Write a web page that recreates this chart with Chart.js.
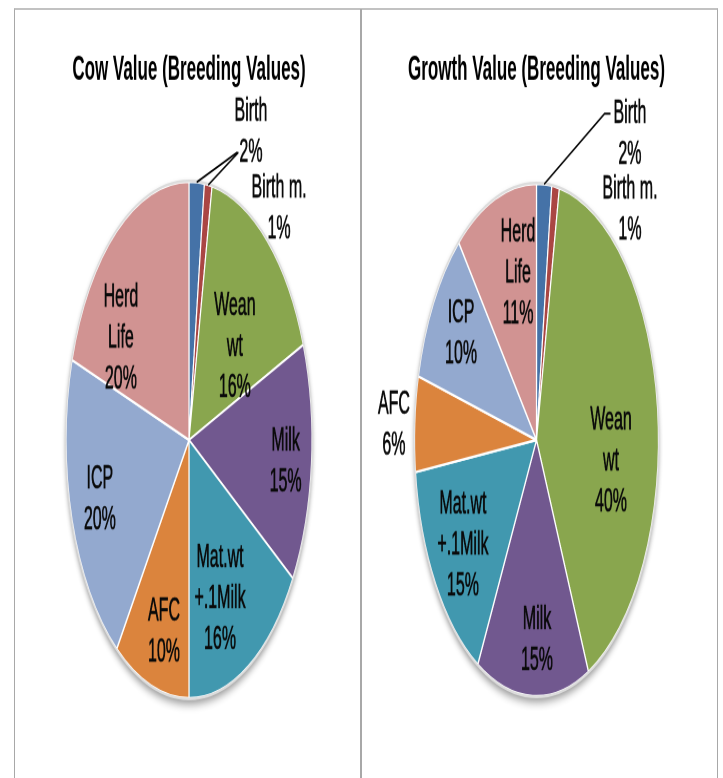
<!DOCTYPE html>
<html>
<head>
<meta charset="utf-8">
<script src="https://cdn.jsdelivr.net/npm/chart.js@4.4.1/dist/chart.umd.min.js"></script>
<style>
  html, body { margin: 0; padding: 0; background: #fff; }
  body { width: 723px; height: 778px; position: relative; overflow: hidden; }
  .frame { position: absolute; left: 14px; top: 8px; width: 702px; height: 790px;
           border-left: 1.5px solid #a8a8a8; border-right: 1.5px solid #a8a8a8; border-top: 2px solid #c2c2c2; }
  .divider { position: absolute; left: 360px; top: 9px; width: 1.5px; height: 770px; background: #a8a8a8; }
  canvas { position: absolute; top: 0; transform-origin: 0 0; transform: scaleY(2.1); }
  #cowChart { left: 0; }
  #growthChart { left: 361px; }
</style>
</head>
<body>
<div class="frame"></div>
<div class="divider"></div>
<canvas id="cowChart" width="361" height="370"></canvas>
<canvas id="growthChart" width="362" height="370"></canvas>
<script>
// Data (percent of total)
const categories = ['Birth', 'Birth m.', ['Wean', 'wt'], 'Milk', ['Mat.wt', '+.1Milk'], 'AFC', 'ICP', ['Herd', 'Life']];
const cowValues = [2, 1, 16, 15, 16, 10, 20, 20];
const growthValues = [2, 1, 40, 15, 15, 6, 10, 11];

const sliceColors = ['#4572A7', '#AA4643', '#89A64E', '#71588F', '#4198AF', '#DB843D', '#93A9CF', '#D19392'];

// Label placement: r = fraction of radius, shift = degrees off the slice middle
const cowPlace = [
    { r: 1.295, shift: 19.3, leader: { to: 0, line: 1, gap: 2 } },
    { r: 1.156, shift: 30.3, leader: { to: 0, line: 1, gap: 1 } },
    { r: 0.52, shift: 6.2 },
    { r: 0.79, shift: 0.8 },
    { r: 0.665, shift: 6.5 },
    { r: 0.77, shift: -2.7 },
    { r: 0.76, shift: 0.5 },
    { r: 0.68, shift: -18.5 }
];
const growthPlace = [
    { r: 1.418, shift: 29.1, leader: { to: 0, line: 0, gap: 3, tail: 6 } },
    { r: 1.18, shift: 31.5 },
    { r: 0.616, shift: 14.8 },
    { r: 0.78, shift: -2.1 },
    { r: 0.729, shift: 0 },
    { r: 1.17, shift: -0.7 },
    { r: 0.744, shift: 1.4 },
    { r: 0.669, shift: 6.7 }
];

// soft shadow under the pie and a light rim round it
const pieShadow = {
    id: 'pieShadow',
    beforeDatasetsDraw(chart) {
        const ctx = chart.ctx;
        const arc = chart.getDatasetMeta(0).data[0];
        const { x, y, outerRadius } = arc.getProps(['x', 'y', 'outerRadius'], true);
        ctx.save();
        ctx.shadowColor = 'rgba(0,0,0,0.45)';
        ctx.shadowBlur = 10;
        ctx.shadowOffsetY = 5;
        ctx.beginPath();
        ctx.arc(x, y, outerRadius, 0, Math.PI * 2);
        ctx.fillStyle = '#fff';
        ctx.fill();
        ctx.restore();
    },
    afterDatasetsDraw(chart) {
        const ctx = chart.ctx;
        const arc = chart.getDatasetMeta(0).data[0];
        const { x, y, outerRadius } = arc.getProps(['x', 'y', 'outerRadius'], true);
        ctx.save();
        ctx.beginPath();
        ctx.arc(x, y, outerRadius + 0.4, 0, Math.PI * 2);
        ctx.strokeStyle = '#dcdcdc';
        ctx.lineWidth = 1.2;
        ctx.stroke();
        ctx.restore();
    }
};

// category + percent labels, with leader lines for the small slices
const pieLabels = {
    id: 'pieLabels',
    afterDatasetsDraw(chart, args, opts) {
        const ctx = chart.ctx;
        const meta = chart.getDatasetMeta(0);
        const values = chart.data.datasets[0].data;
        const lh = opts.lineHeight;
        ctx.save();
        ctx.font = opts.font;
        ctx.fillStyle = opts.color;
        ctx.strokeStyle = opts.color;
        ctx.lineWidth = 0.35;
        ctx.textAlign = 'center';
        ctx.textBaseline = 'middle';
        const boxes = [];
        meta.data.forEach((arc, i) => {
            const p = opts.place[i];
            const { x, y, startAngle, endAngle, outerRadius } =
                arc.getProps(['x', 'y', 'startAngle', 'endAngle', 'outerRadius'], true);
            const mid = (startAngle + endAngle) / 2;
            const a = mid + p.shift * Math.PI / 180;
            const lx = x + Math.cos(a) * outerRadius * p.r;
            const ly = y + Math.sin(a) * outerRadius * p.r;
            const lines = [].concat(chart.data.labels[i], values[i] + '%');
            const top = ly - (lines.length - 1) * lh / 2;
            lines.forEach((t, k) => {
                ctx.fillText(t, lx, top + k * lh);
                ctx.strokeText(t, lx, top + k * lh);
            });
            boxes.push({ lines, lx, top, edge: { x: x + Math.cos(mid) * outerRadius, y: y + Math.sin(mid) * outerRadius } });
        });
        ctx.strokeStyle = '#000';
        ctx.lineWidth = 1;
        boxes.forEach((b, i) => {
            const ld = opts.place[i].leader;
            if (!ld) return;
            const target = boxes[ld.to];
            const w = ctx.measureText(target.lines[ld.line]).width;
            const ex = target.lx - w / 2 - ld.gap;
            const ey = target.top + ld.line * lh;
            ctx.beginPath();
            ctx.moveTo(b.edge.x, b.edge.y);
            if (ld.tail) {
                ctx.lineTo(ex - ld.tail, ey);
            }
            ctx.lineTo(ex, ey);
            ctx.stroke();
        });
        ctx.restore();
    }
};

function makePie(id, title, values, place, radius, padLeft, padRight) {
    const ctx = document.getElementById(id).getContext('2d');
    return new Chart(ctx, {
        type: 'pie',
        data: {
            labels: categories,
            datasets: [{
                data: values,
                backgroundColor: sliceColors,
                borderColor: '#ffffff',
                borderWidth: 1.2,
                radius: radius
            }]
        },
        options: {
            responsive: false,
            animation: false,
            devicePixelRatio: 2,
            layout: { padding: { left: padLeft, right: padRight, top: 0, bottom: 0 } },
            plugins: {
                legend: { display: false },
                tooltip: { enabled: false },
                title: {
                    display: true,
                    text: title,
                    color: '#000',
                    font: { family: "'Liberation Sans', Arial, sans-serif", size: 17, weight: 'bold', lineHeight: 1.2 },
                    padding: { top: 23, bottom: 5.6 }
                },
                pieLabels: {
                    place: place,
                    font: "16px 'Liberation Sans', Arial, sans-serif",
                    color: '#0a0a0a',
                    lineHeight: 19.5
                }
            }
        },
        plugins: [pieShadow, pieLabels]
    });
}

makePie('cowChart', 'Cow Value (Breeding Values)', cowValues, cowPlace, 123, 17, 0);
makePie('growthChart', 'Growth Value (Breeding Values)', growthValues, growthPlace, 122, 0, 11);
</script>
</body>
</html>
